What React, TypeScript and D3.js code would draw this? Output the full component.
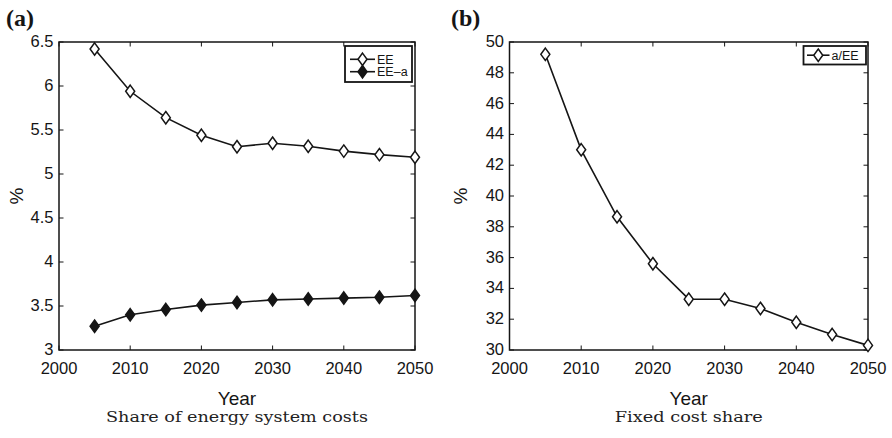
import React from "react";
import * as d3 from "d3";

const years = [2005, 2010, 2015, 2020, 2025, 2030, 2035, 2040, 2045, 2050];
const eeValues = [6.42, 5.94, 5.64, 5.44, 5.31, 5.35, 5.315, 5.26, 5.22, 5.19];
const eeaValues = [3.27, 3.4, 3.46, 3.51, 3.54, 3.57, 3.58, 3.59, 3.6, 3.62];
const aeeValues = [49.2, 43.0, 38.65, 35.6, 33.3, 33.3, 32.7, 31.8, 31.0, 30.3];
const xTicks = [2000, 2010, 2020, 2030, 2040, 2050];
const yTicksA = [3, 3.5, 4, 4.5, 5, 5.5, 6, 6.5];
const yTicksB = [30, 32, 34, 36, 38, 40, 42, 44, 46, 48, 50];

const SANS = "'Liberation Sans', Arial, Helvetica, sans-serif";
const SERIF = "'DejaVu Serif', serif";
const INK = "#151515";

type Series = { name: string; values: number[]; filled: boolean };

function Diamond({ x, y, filled }: { x: number; y: number; filled: boolean }) {
  const w = 4.5, h = 6.2;
  return (
    <path
      d={`M${x},${y - h}L${x + w},${y}L${x},${y + h}L${x - w},${y}Z`}
      fill={filled ? INK : "#fff"}
      stroke={INK}
      strokeWidth={1.5}
    />
  );
}

function Panel({
  left, right, top, bottom, yDomain, yTicks, series, tag, tagX, caption, captionWidth,
  legend, yLabelX,
}: {
  left: number; right: number; top: number; bottom: number;
  yDomain: [number, number]; yTicks: number[]; series: Series[]; tag: string; tagX: number;
  caption: string; captionWidth: number; yLabelX: number;
  legend: { x0: number; x1: number; y0: number; y1: number; rows: number[]; lineX0: number; lineX1: number; textX: number };
}) {
  const x = d3.scaleLinear().domain([2000, 2050]).range([left, right]);
  const y = d3.scaleLinear().domain(yDomain).range([bottom, top]);
  const line = d3.line<number>().x((_, i) => x(years[i])).y((v) => y(v));
  const tl = 4.5;
  const cx = (left + right) / 2;
  return (
    <g>
      <text x={tagX} y={26} fontFamily="'Liberation Serif', serif" fontWeight="bold" fontSize={24} fill={INK}>{tag}</text>
      {xTicks.map((t) => (
        <g key={"x" + t}>
          <line x1={x(t)} x2={x(t)} y1={bottom} y2={bottom - tl} stroke={INK} strokeWidth={1} />
          <line x1={x(t)} x2={x(t)} y1={top} y2={top + tl} stroke={INK} strokeWidth={1} />
          <text x={x(t)} y={374} textAnchor="middle" fontFamily={SANS} fontSize={16.5} fill={INK}>{t}</text>
        </g>
      ))}
      {yTicks.map((t) => (
        <g key={"y" + t}>
          <line x1={left} x2={left + tl} y1={y(t)} y2={y(t)} stroke={INK} strokeWidth={1} />
          <line x1={right} x2={right - tl} y1={y(t)} y2={y(t)} stroke={INK} strokeWidth={1} />
          <text x={left - 5.5} y={y(t)} dy="0.3em" textAnchor="end" fontFamily={SANS} fontSize={16.5} fill={INK}>{t}</text>
        </g>
      ))}
      <rect x={left} y={top} width={right - left} height={bottom - top} fill="none" stroke={INK} strokeWidth={1.5} />
      {series.map((s) => (
        <g key={s.name}>
          <path d={line(s.values) || ""} fill="none" stroke={INK} strokeWidth={1.6} />
          {s.values.map((v, i) => (
            <Diamond key={i} x={x(years[i])} y={y(v)} filled={s.filled} />
          ))}
        </g>
      ))}
      <rect x={legend.x0} y={legend.y0} width={legend.x1 - legend.x0} height={legend.y1 - legend.y0} fill="#fff" stroke={INK} strokeWidth={1.8} />
      {series.map((s, i) => (
        <g key={"lg" + s.name}>
          <line x1={legend.lineX0} x2={legend.lineX1} y1={legend.rows[i]} y2={legend.rows[i]} stroke={INK} strokeWidth={1.6} />
          <Diamond x={(legend.lineX0 + legend.lineX1) / 2} y={legend.rows[i]} filled={s.filled} />
          <text x={legend.textX} y={legend.rows[i]} dy="0.35em" fontFamily={SANS} fontSize={12.5} fill={INK}>{s.name}</text>
        </g>
      ))}
      <text x={cx} y={405} textAnchor="middle" fontFamily={SANS} fontSize={19} fill={INK}>Year</text>
      <text transform={`translate(${yLabelX},${(top + bottom) / 2}) rotate(-90)`} textAnchor="middle" dy="0.36em" fontFamily={SANS} fontSize={19} fill={INK}>%</text>
      <text x={cx} y={422} textAnchor="middle" fontFamily={SERIF} fontSize={15} fill="#222" textLength={captionWidth} lengthAdjust="spacingAndGlyphs">{caption}</text>
    </g>
  );
}

export default function App() {
  return (
    <svg width={892} height={438} style={{ position: "absolute", left: 0, top: 0, background: "#fff" }}>
      <rect width={892} height={438} fill="#fff" />
      <Panel
        left={59} right={415} top={42} bottom={350}
        yDomain={[3, 6.5]} yTicks={yTicksA}
        series={[
          { name: "EE", values: eeValues, filled: false },
          { name: "EE\u2013a", values: eeaValues, filled: true },
        ]}
        tag="(a)" tagX={6} yLabelX={16} caption="Share of energy system costs" captionWidth={262}
        legend={{ x0: 345, x1: 412, y0: 46, y1: 82, rows: [59.3, 71.7], lineX0: 350, lineX1: 375, textX: 377 }}
      />
      <Panel
        left={509.5} right={868} top={42} bottom={350}
        yDomain={[30, 50]} yTicks={yTicksB}
        series={[{ name: "a/EE", values: aeeValues, filled: false }]}
        tag="(b)" tagX={451} yLabelX={460} caption="Fixed cost share" captionWidth={148}
        legend={{ x0: 803.5, x1: 866, y0: 46, y1: 64.5, rows: [55.2], lineX0: 807, lineX1: 829.5, textX: 831.5 }}
      />
    </svg>
  );
}
